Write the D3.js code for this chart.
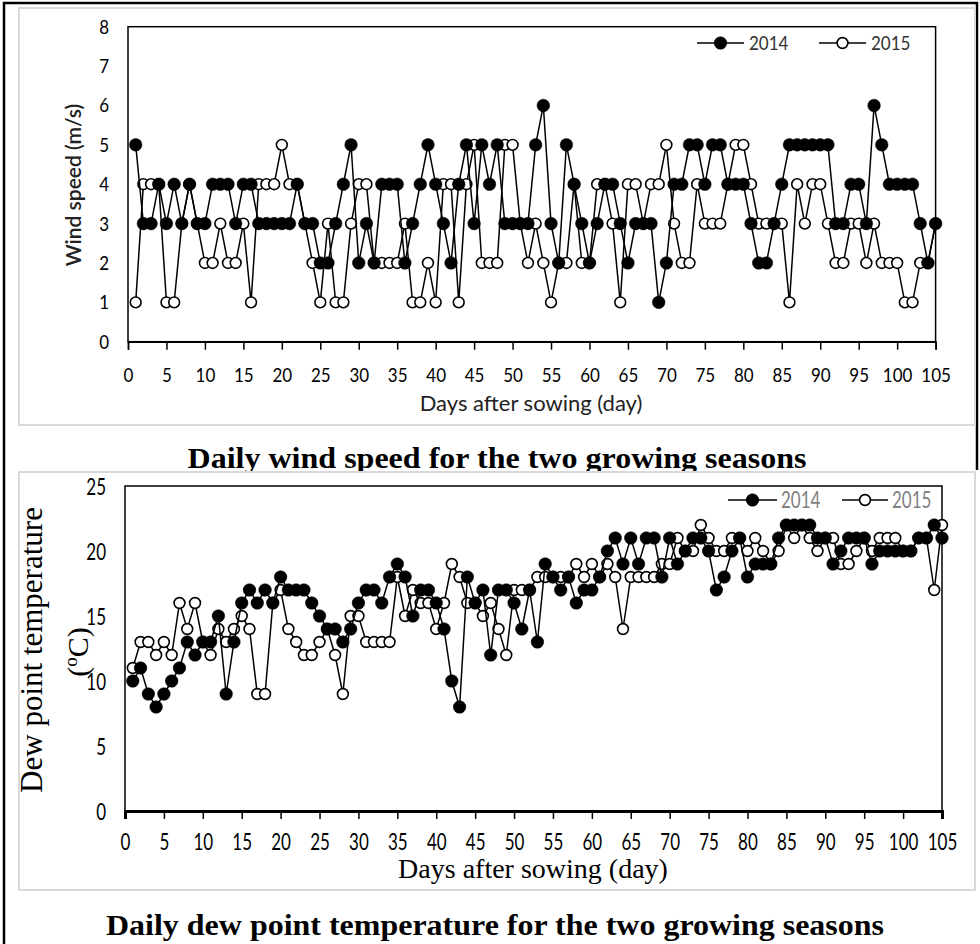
<!DOCTYPE html>
<html>
<head>
<meta charset="utf-8">
<script src="https://cdn.jsdelivr.net/npm/d3@7"></script>
<style>
  body { margin: 0; background: #fff; }
  svg { display: block; }
</style>
</head>
<body>
<svg id="fig" width="980" height="944"></svg>
<script>
// ---- data -------------------------------------------------------------
const days = d3.range(1, 106);            // days after sowing, 1..105
const seriesNames = ["2014", "2015"];

const wind2014 = [5,3,3,4,3,4,3,4,3,3, 4,4,4,3,4,4,3,3,3,3, 3,4,3,3,2,2,3,4,5,2,
                  3,2,4,4,4,2,3,4,5,4, 3,2,4,5,3,5,4,5,3,3, 3,3,5,6,3,2,5,4,3,2,
                  3,4,4,3,2,3,3,3,1,2, 4,4,5,5,4,5,5,4,4,4, 3,2,2,3,4,5,5,5,5,5,
                  5,3,3,4,4,3,6,5,4,4, 4,4,3,2,3];
const wind2015 = [1,4,4,4,1,1,3,4,3,2, 2,3,2,2,3,1,4,4,4,5, 4,4,3,2,1,3,1,1,3,4,
                  4,2,2,2,2,3,1,1,2,1, 4,4,1,4,5,2,2,2,5,5, 3,2,3,2,1,2,2,4,2,2,
                  4,4,3,1,4,4,3,4,4,5, 3,2,2,4,3,3,3,4,5,5, 4,3,3,3,3,1,4,3,4,4,
                  3,2,2,3,3,2,3,2,2,2, 1,1,2,2,3];

const dew2014 = [10,11,9,8,9,10,11,13,12,13, 13,15,9,13,16,17,16,17,16,18,
                 17,17,17,16,15,14,14,13,14,16, 17,17,16,18,19,18,15,17,17,16,
                 14,10,8,18,16,17,12,17,17,16, 14,17,13,19,18,17,18,16,17,17,
                 18,20,21,19,21,19,21,21,18,21, 19,20,21,21,20,17,18,20,21,18,
                 19,19,19,21,22,22,22,22,21,21, 19,20,21,21,21,19,20,20,20,20,
                 20,21,21,22,21];
const dew2015 = [11,13,13,12,13,12,16,14,16,13, 12,14,13,14,15,14,9,9,16,17,
                 14,13,12,12,13,14,12,9,15,15, 13,13,13,13,18,15,17,16,16,14,
                 16,19,18,16,16,15,16,14,12,17, 17,17,18,18,18,18,18,19,18,19,
                 18,19,18,14,18,18,18,18,19,19, 21,20,20,22,21,20,20,21,21,20,
                 21,20,19,20,22,21,22,21,20,21, 21,19,19,20,21,20,21,21,21,20,
                 20,21,21,17,22];

const dayTicks  = [0,5,10,15,20,25,30,35,40,45,50,55,60,65,70,75,80,85,90,95,100,105];
const windTicks = [0,1,2,3,4,5,6,7,8];
const dewTicks  = [0,5,10,15,20,25];

const windTitle = "Daily wind speed for the two growing seasons";
const dewTitle  = "Daily dew point temperature for the two growing seasons";

// ---- drawing ----------------------------------------------------------
const svg = d3.select("#fig");
const sans  = "Lato, 'Open Sans', sans-serif";
const serif = "'Liberation Serif', 'Times New Roman', serif";

function drawPanel(o) {
  const g = svg.append("g");

  // chart area
  g.append("rect")
    .attr("x", o.box[0]).attr("y", o.box[1])
    .attr("width", o.box[2] - o.box[0]).attr("height", o.box[3] - o.box[1])
    .attr("fill", "#fff").attr("stroke", "#d9d9d9").attr("stroke-width", 2);

  const x = d3.scaleLinear().domain([0, 105]).range([o.left, o.right]);
  const y = d3.scaleLinear().domain([0, o.ymax]).range([o.bottom, o.top]);

  // plot frame
  g.append("rect")
    .attr("x", o.left).attr("y", o.top)
    .attr("width", o.right - o.left).attr("height", o.bottom - o.top)
    .attr("fill", "none").attr("stroke", "#000").attr("stroke-width", 1.5);

  // x axis
  const xa = g.append("g")
    .attr("transform", `translate(0,${o.bottom})`)
    .call(d3.axisBottom(x).tickValues(dayTicks).tickSize(8).tickFormat(d3.format("d")));
  xa.attr("font-family", null).attr("font-size", null);
  xa.select(".domain").attr("stroke", "#000").attr("stroke-width", o.axisWidth);
  xa.selectAll(".tick line").attr("stroke", "#000").attr("stroke-width", 1.5);
  xa.selectAll(".tick text")
    .attr("y", null).attr("dy", null)
    .attr("fill", "#000")
    .style("font-family", sans).style("font-size", o.tickFont + "px")
    .attr("transform", `translate(0,${o.xLabelBase}) scale(1,${o.stretch})`);

  // y axis labels
  const ya = g.append("g")
    .attr("transform", `translate(${o.left},0)`)
    .call(d3.axisLeft(y).tickValues(o.yTicks).tickSize(0));
  ya.attr("font-family", null).attr("font-size", null);
  ya.select(".domain").remove();
  ya.selectAll(".tick line").remove();
  ya.selectAll(".tick text")
    .attr("x", null).attr("dy", null)
    .attr("text-anchor", "end").attr("fill", "#000")
    .style("font-family", sans).style("font-size", o.tickFont + "px")
    .attr("transform", `translate(${o.yLabelDx},${o.yLabelDy}) scale(1,${o.stretch})`);

  // series: 2015 underneath, 2014 on top
  const line = d3.line().x(d => x(d.day)).y(d => y(d.v));
  const order = [
    { name: seriesNames[1], vals: o.s2015, filled: false },
    { name: seriesNames[0], vals: o.s2014, filled: true }
  ];
  order.forEach(s => {
    const pts = days.map((d, i) => ({ day: d, v: s.vals[i] }));
    const sg = g.append("g");
    sg.append("path").datum(pts)
      .attr("d", line).attr("fill", "none")
      .attr("stroke", "#000").attr("stroke-width", 1.5);
    sg.selectAll("circle").data(pts).join("circle")
      .attr("cx", d => x(d.day)).attr("cy", d => y(d.v))
      .attr("r", s.filled ? 6.3 : 5.4)
      .attr("fill", s.filled ? "#000" : "#fff")
      .attr("stroke", "#000").attr("stroke-width", s.filled ? 0.5 : 1.6);
  });

  // legend
  const lg = g.append("g");
  o.legend.forEach((L, i) => {
    lg.append("line")
      .attr("x1", L.x0).attr("x2", L.x1).attr("y1", o.legendY).attr("y2", o.legendY)
      .attr("stroke", "#000").attr("stroke-width", 1.5);
    lg.append("circle")
      .attr("cx", (L.x0 + L.x1) / 2).attr("cy", o.legendY)
      .attr("r", i === 0 ? 6.3 : 5.4)
      .attr("fill", i === 0 ? "#000" : "#fff")
      .attr("stroke", "#000").attr("stroke-width", i === 0 ? 0.5 : 1.6);
    lg.append("text")
      .attr("transform", `translate(${L.tx},${o.legendY + o.legendBase}) scale(1,${o.stretch})`)
      .attr("fill", o.legendColor)
      .style("font-family", sans).style("font-size", o.legendFont + "px")
      .text(seriesNames[i]);
  });

  return g;
}

// outer figure border
svg.append("path")
  .attr("d", "M4,944V3H977V470")
  .attr("fill", "none").attr("stroke", "#000").attr("stroke-width", 2.5);

// ---- wind speed panel ----
const windPanel = drawPanel({
  box: [19, 8, 975, 425],
  left: 128, right: 935.6, top: 26.7, bottom: 341.7,
  ymax: 8, yTicks: windTicks,
  s2014: wind2014, s2015: wind2015,
  axisWidth: 1.5, tickFont: 17, stretch: 1.15,
  xLabelBase: 40, yLabelDx: -19, yLabelDy: 6.5,
  legendY: 43, legendBase: 6.5, legendFont: 17, legendColor: "#333",
  legend: [{ x0: 697, x1: 744, tx: 749 }, { x0: 819, x1: 866, tx: 871 }]
});
windPanel.append("text")
  .attr("x", 531).attr("y", 411).attr("text-anchor", "middle")
  .style("font-family", sans).style("font-size", "22px").attr("fill", "#222")
  .text("Days after sowing (day)");
windPanel.append("text")
  .attr("transform", "translate(81,185) rotate(-90)").attr("text-anchor", "middle")
  .style("font-family", sans).style("font-size", "21px").style("font-weight", "600").attr("fill", "#222")
  .text("Wind speed (m/s)");

svg.append("text")
  .attr("x", 497).attr("y", 468).attr("text-anchor", "middle")
  .attr("textLength", 619).attr("lengthAdjust", "spacingAndGlyphs")
  .style("font-family", serif).style("font-size", "29px").style("font-weight", "bold")
  .text(windTitle);

// ---- dew point panel ----
const dewPanel = drawPanel({
  box: [19, 472, 975, 890],
  left: 125, right: 942, top: 486, bottom: 811,
  ymax: 25, yTicks: dewTicks,
  s2014: dew2014, s2015: dew2015,
  axisWidth: 3, tickFont: 17, stretch: 1.35,
  xLabelBase: 39, yLabelDx: -19, yLabelDy: 8,
  legendY: 500, legendBase: 8, legendFont: 17, legendColor: "#808080",
  legend: [{ x0: 728, x1: 777, tx: 781 }, { x0: 842, x1: 888, tx: 892 }]
});
dewPanel.append("text")
  .attr("x", 533).attr("y", 878).attr("text-anchor", "middle")
  .style("font-family", serif).style("font-size", "28px").attr("fill", "#000")
  .text("Days after sowing (day)");
dewPanel.append("text")
  .attr("transform", "translate(42,650) rotate(-90)").attr("text-anchor", "middle")
  .style("font-family", serif).style("font-size", "31px").attr("fill", "#000")
  .text("Dew point temperature");
const unit = dewPanel.append("text")
  .attr("transform", "translate(88,652) rotate(-90)").attr("text-anchor", "middle")
  .style("font-family", serif).style("font-size", "30px").attr("fill", "#000");
unit.append("tspan").text("(");
unit.append("tspan").attr("dy", -11).style("font-size", "19px").text("o");
unit.append("tspan").attr("dy", 11).text("C)");

svg.append("text")
  .attr("x", 495).attr("y", 935).attr("text-anchor", "middle")
  .attr("textLength", 778).attr("lengthAdjust", "spacingAndGlyphs")
  .style("font-family", serif).style("font-size", "30px").style("font-weight", "bold")
  .text(dewTitle);
</script>
</body>
</html>
